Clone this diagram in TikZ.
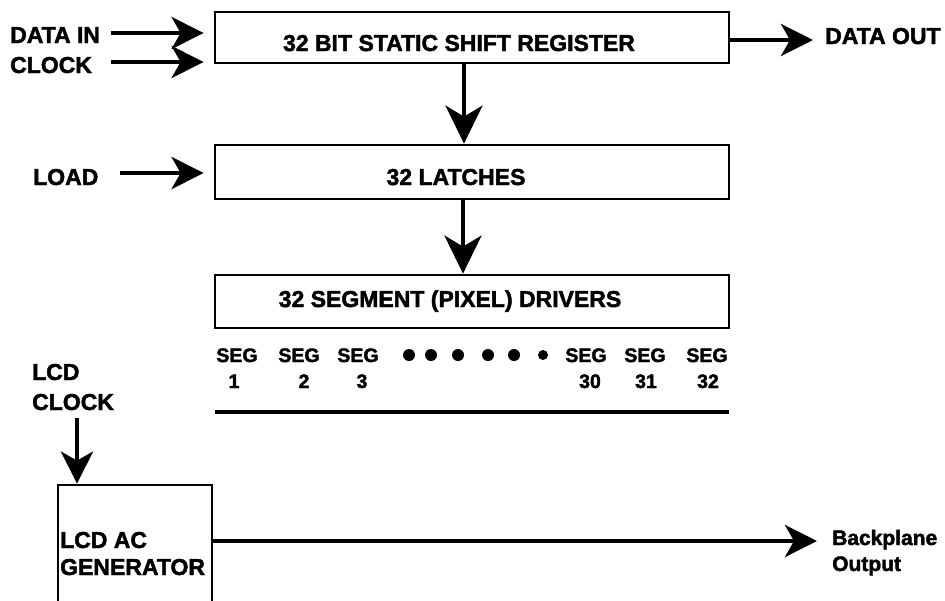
\documentclass[tikz,border=0pt]{standalone}
\usepackage{fontspec}
\setmainfont{Liberation Sans}
\newfontfamily\heavy{Liberation Sans Bold}[FakeBold=2]
\usetikzlibrary{arrows.meta}
\begin{document}
\begin{tikzpicture}[x=1pt,y=-1pt,
  box/.style={draw, line width=2.8pt, inner sep=0pt},
  lbl/.style={font=\heavy\fontsize{23}{25}\selectfont, inner sep=0pt},
  smlbl/.style={font=\heavy\fontsize{21}{23}\selectfont, inner sep=0pt},
  seglbl/.style={font=\heavy\fontsize{19.5}{22}\selectfont, inner sep=0pt},
  arr/.style={line width=4.5pt, -{Stealth[length=32pt,width=32pt,inset=9pt]}},
  arrd/.style={line width=4.5pt, -{Stealth[length=38pt,width=37pt,inset=11pt]}},
  dot/.style={fill=black}]
\useasboundingbox (0,0) rectangle (945,600);
\clip (0,0) rectangle (945,600);

% boxes
\node[box, minimum width=514pt, minimum height=51pt] (sr) at (472,37.5) {};
\node[box, minimum width=514pt, minimum height=54pt] (latch) at (472,172) {};
\node[box, minimum width=514pt, minimum height=53pt] (drv) at (472,301.5) {};
\node[box, minimum width=154pt, minimum height=130pt] (acgen) at (135,550) {};

% box texts
\node[lbl, anchor=base] (srt) at (459,51) {32 BIT STATIC SHIFT REGISTER};
\node[lbl, anchor=base] (latcht) at (456,185) {32 LATCHES};
\node[lbl, anchor=base] (drvt) at (450,307) {32 SEGMENT (PIXEL) DRIVERS};
\node[lbl, anchor=base west] (acgt1) at (60,548) {LCD AC};
\node[lbl, anchor=base west] (acgt2) at (60,575) {GENERATOR};

% side labels
\node[lbl, anchor=base west] (datain) at (10,43) {DATA IN};
\node[lbl, anchor=base west] (clock) at (10,73) {CLOCK};
\node[lbl, anchor=base west] (dataout) at (825,44) {DATA OUT};
\node[lbl, anchor=base west] (load) at (33,185) {LOAD};
\node[lbl, anchor=base west] (lcd1) at (32,380) {LCD};
\node[lbl, anchor=base west] (lcd2) at (32,410) {CLOCK};
\node[smlbl, anchor=base west] (bp1) at (832,545) {Backplane};
\node[smlbl, anchor=base west] (bp2) at (832,571) {Output};

% segment outputs
\node[seglbl, anchor=base] (s1) at (237,362) {SEG};
\node[seglbl, anchor=base] (s2) at (299,362) {SEG};
\node[seglbl, anchor=base] (s3) at (358,362) {SEG};
\node[seglbl, anchor=base] (s30) at (586,362) {SEG};
\node[seglbl, anchor=base] (s31) at (645,362) {SEG};
\node[seglbl, anchor=base] (s32) at (707,362) {SEG};
\node[seglbl, anchor=base] (n1) at (234,388) {1};
\node[seglbl, anchor=base] (n2) at (304,388) {2};
\node[seglbl, anchor=base] (n3) at (362,388) {3};
\node[seglbl, anchor=base] (n30) at (590,388) {30};
\node[seglbl, anchor=base] (n31) at (646,388) {31};
\node[seglbl, anchor=base] (n32) at (708,388) {32};
\foreach \x in {409,431,458,488,514} \fill[dot] (\x,355) circle (6pt);
\fill[dot] (543,355) circle (5pt);
\coordinate (lineL) at (215,412);
\coordinate (lineR) at (729,412);
\draw[line width=3.5pt] (lineL) -- (lineR);

% connectors
\coordinate (dinS) at (111,33);
\coordinate (clkS) at (111,62);
\coordinate (loadS) at (120,173);
\coordinate (doutE) at (813,40);
\coordinate (c1) at (464,0);
\coordinate (c2) at (463,0);
\coordinate (lcdS) at (77,418);
\coordinate (bpE) at (817,541);

\draw[arr, shorten >=10pt] (dinS) -- (dinS -| sr.west);
\draw[arr, shorten >=10pt] (clkS) -- (clkS -| sr.west);
\draw[arr, shorten >=10pt] (loadS) -- (loadS -| latch.west);
\draw[arr] (sr.east |- doutE) -- (doutE);
\draw[arrd] (sr.south -| c1) -- (latch.north -| c1);
\draw[arrd] (latch.south -| c2) -- (drv.north -| c2);
\draw[arr] (lcdS) -- (lcdS |- acgen.north);
\draw[arr] (acgen.east |- bpE) -- (bpE);
\end{tikzpicture}
\end{document}
